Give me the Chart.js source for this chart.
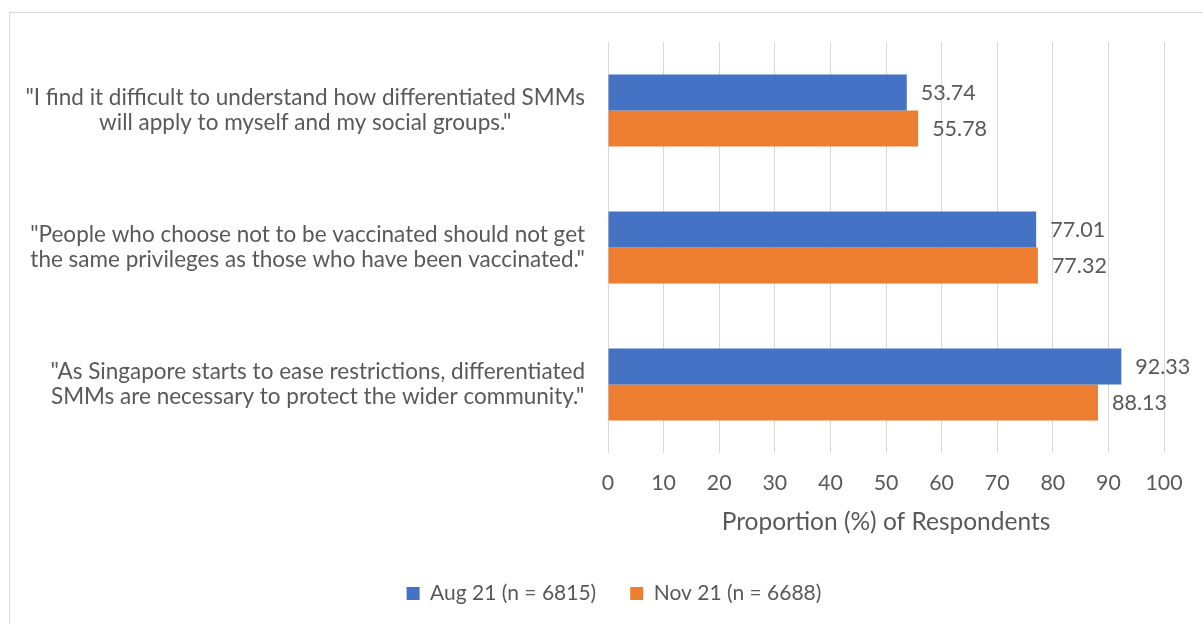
<!DOCTYPE html>
<html>
<head>
<meta charset="utf-8">
<script src="https://cdn.jsdelivr.net/npm/chart.js@4/dist/chart.umd.min.js"></script>
<style>
  html, body { margin: 0; padding: 0; background: #fff; overflow: hidden; }
  #wrap { position: relative; width: 1203px; height: 624px; }
  #frame { position: absolute; left: 9px; top: 12px; width: 1220px; height: 640px; border: 1px solid #d9d9d9; box-sizing: border-box; }
  canvas { position: absolute; left: 0; top: 0; }
</style>
</head>
<body>
<div id="wrap">
  <div id="frame"></div>
  <canvas id="chart" width="1203" height="624"></canvas>
</div>
<script>
// Survey statements (one array of lines per statement)
const categories = [
  ['"I find it difficult to understand how differentiated SMMs', 'will apply to myself and my social groups."'],
  ['"People who choose not to be vaccinated should not get', 'the same privileges as those who have been vaccinated."'],
  ['"As Singapore starts to ease restrictions, differentiated', 'SMMs are necessary to protect the wider community."']
];
const seriesNames = ['Aug 21 (n = 6815)', 'Nov 21 (n = 6688)'];
const aug21 = [53.74, 77.01, 92.33];
const nov21 = [55.78, 77.32, 88.13];
const xTicks = [0, 10, 20, 30, 40, 50, 60, 70, 80, 90, 100];
const xTitle = 'Proportion (%) of Respondents';

const FONT = 'Lato, "Noto Sans", sans-serif';
const TEXT = '#595959';
const GRID = '#d9d9d9';
const PAD_LEFT = 64;

// Value labels just past the end of each bar
const valueLabels = {
  id: 'valueLabels',
  afterDatasetsDraw(chart) {
    const ctx = chart.ctx;
    ctx.save();
    ctx.font = '21.5px ' + FONT;
    ctx.fillStyle = TEXT;
    ctx.textAlign = 'left';
    ctx.textBaseline = 'middle';
    chart.data.datasets.forEach((ds, i) => {
      chart.getDatasetMeta(i).data.forEach((bar, j) => {
        ctx.fillText(ds.data[j].toFixed(2), bar.x + 14, bar.y + 1);
      });
    });
    ctx.restore();
  }
};

// Statement labels: each block right-aligned to the axis, its lines centred within the block
const statementLabels = {
  id: 'statementLabels',
  afterDraw(chart) {
    const ctx = chart.ctx;
    const y = chart.scales.y;
    ctx.save();
    ctx.font = '22.5px ' + FONT;
    ctx.fillStyle = TEXT;
    ctx.textAlign = 'center';
    ctx.textBaseline = 'middle';
    const right = chart.chartArea.left - 23;
    const lh = 25;
    chart.data.labels.forEach((lines, i) => {
      const w = Math.max(...lines.map(l => ctx.measureText(l).width));
      const cx = right - w / 2;
      const cy = y.getPixelForValue(i);
      lines.forEach((l, k) => {
        ctx.fillText(l, cx, cy + (k - (lines.length - 1) / 2) * lh);
      });
    });
    ctx.restore();
  }
};

new Chart(document.getElementById('chart'), {
  type: 'bar',
  data: {
    labels: categories,
    datasets: [
      { label: seriesNames[0], data: aug21, backgroundColor: '#4472c4', borderWidth: 0 },
      { label: seriesNames[1], data: nov21, backgroundColor: '#ed7d31', borderWidth: 0 }
    ]
  },
  options: {
    indexAxis: 'y',
    responsive: false,
    animation: false,
    devicePixelRatio: 1,
    layout: { padding: { top: 42, right: 39, left: PAD_LEFT, bottom: 10 } },
    categoryPercentage: 0.525,
    barPercentage: 1.0,
    scales: {
      x: {
        min: 0, max: 100,
        afterBuildTicks(scale) { scale.ticks = xTicks.map(v => ({ value: v })); },
        grid: { color: GRID, lineWidth: 1, drawTicks: false },
        border: { display: false },
        ticks: { color: TEXT, font: { family: FONT, size: 21.3 }, padding: 17 },
        title: { display: true, text: xTitle, color: TEXT, font: { family: FONT, size: 24.5 }, padding: { top: 0, bottom: 12 } },
        afterFit(scale) { scale.height = 96; }
      },
      y: {
        grid: { display: false },
        border: { display: false },
        ticks: { display: false },
        afterFit(scale) { scale.width = 608 - PAD_LEFT; }
      }
    },
    plugins: {
      legend: {
        position: 'bottom',
        labels: {
          color: TEXT,
          font: { family: FONT, size: 21 },
          boxWidth: 13, boxHeight: 13,
          padding: 34
        }
      },
      tooltip: { enabled: false }
    }
  },
  plugins: [valueLabels, statementLabels]
});
</script>
</body>
</html>
